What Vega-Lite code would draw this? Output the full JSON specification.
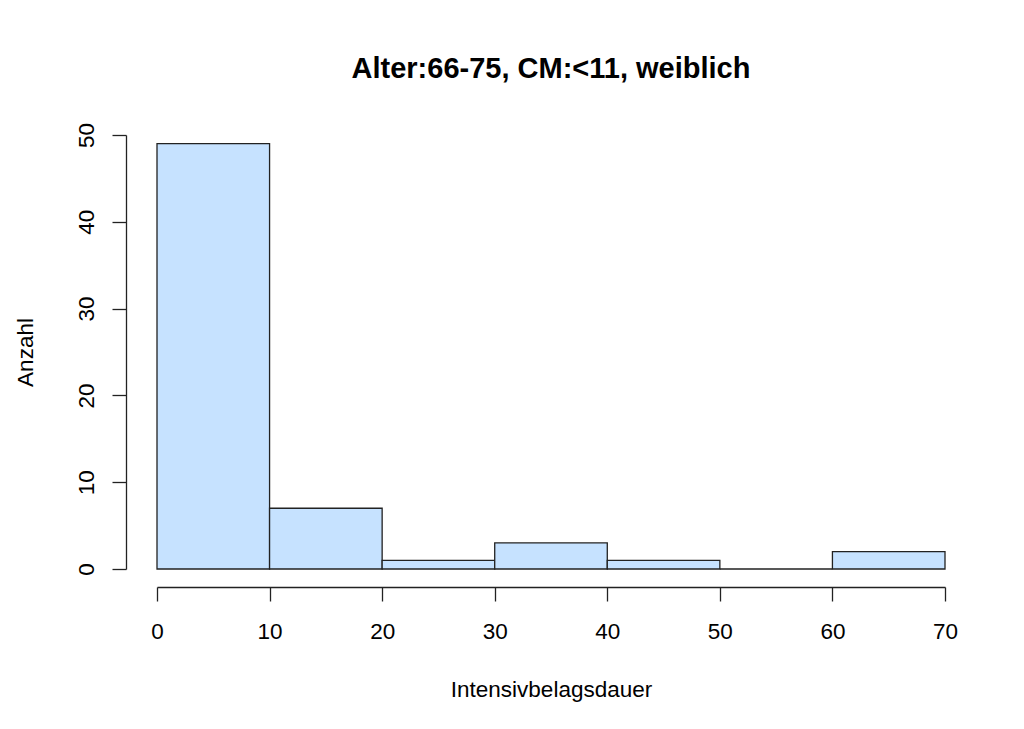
{
  "$schema": "https://vega.github.io/schema/vega-lite/v6.json",
  "width": 788,
  "height": 434,
  "autosize": {"type": "none"},
  "padding": {"left": 157, "top": 135, "right": 79, "bottom": 160},
  "background": "white",
  "config": {"view": {"stroke": null}, "font": "Liberation Sans"},
  "title": {
    "text": "Alter:66-75, CM:<11, weiblich",
    "font": "Liberation Sans",
    "fontSize": 29,
    "fontWeight": "bold",
    "color": "black",
    "anchor": "middle",
    "frame": "group",
    "baseline": "alphabetic",
    "offset": 15
  },
  "data": {
    "values": [
      {"start": 0, "end": 10, "count": 49},
      {"start": 10, "end": 20, "count": 7},
      {"start": 20, "end": 30, "count": 1},
      {"start": 30, "end": 40, "count": 3},
      {"start": 40, "end": 50, "count": 1},
      {"start": 50, "end": 60, "count": 0},
      {"start": 60, "end": 70, "count": 2}
    ]
  },
  "mark": {"type": "bar", "fill": "#c6e2ff", "stroke": "#222222", "strokeWidth": 1.3, "opacity": 1},
  "encoding": {
    "x": {
      "field": "start",
      "type": "quantitative",
      "scale": {"domain": [0, 70], "nice": false, "zero": false, "padding": 0},
      "axis": {
        "values": [0, 10, 20, 30, 40, 50, 60, 70],
        "offset": 18,
        "tickSize": 14,
        "tickWidth": 1.3,
        "domainWidth": 1.3,
        "domainColor": "#222222",
        "tickColor": "#222222",
        "grid": false,
        "labelFontSize": 22.5,
        "labelColor": "black",
        "labelPadding": 19,
        "labelFlush": false,
        "labelOverlap": false,
        "title": "Intensivbelagsdauer",
        "titleFontSize": 22.5,
        "titleFontWeight": "normal",
        "titleColor": "black",
        "titlePadding": 36
      }
    },
    "x2": {"field": "end"},
    "y": {
      "field": "count",
      "type": "quantitative",
      "scale": {"domain": [0, 50], "nice": false, "padding": 0},
      "axis": {
        "values": [0, 10, 20, 30, 40, 50],
        "offset": 31,
        "tickSize": 14,
        "tickWidth": 1.3,
        "domainWidth": 1.3,
        "domainColor": "#222222",
        "tickColor": "#222222",
        "grid": false,
        "labelFontSize": 22.5,
        "labelColor": "black",
        "labelAngle": -90,
        "labelAlign": "center",
        "labelBaseline": "alphabetic",
        "labelPadding": 19,
        "labelFlush": false,
        "labelOverlap": false,
        "title": "Anzahl",
        "titleFontSize": 22.5,
        "titleFontWeight": "normal",
        "titleColor": "black",
        "titleAngle": -90,
        "titleBaseline": "alphabetic",
        "titlePadding": 43
      }
    },
    "y2": {"datum": 0}
  }
}
